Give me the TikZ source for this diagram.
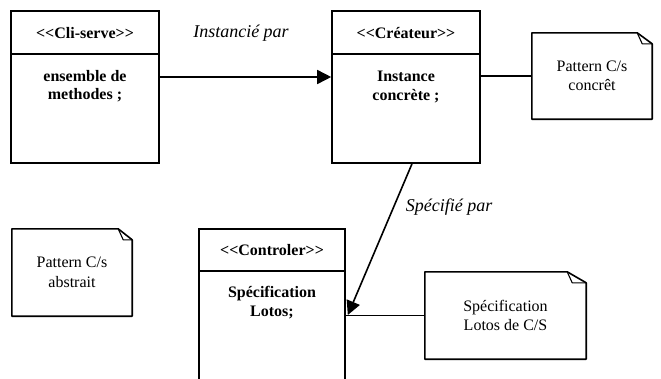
\documentclass[tikz,border=0pt]{standalone}
\usepackage{fontspec}
\setmainfont{Liberation Serif}[Ligatures=TeXOff]
\usetikzlibrary{arrows.meta,calc}

% dog-eared outline around a note node: #1 name, #2 fold width, #3 fold height
\newcommand{\dogear}[3]{%
  \draw[ln,line join=round] (#1.south west) -- (#1.north west)
    -- ($(#1.north east)+(-#2,0)$) -- ($(#1.north east)+(0,#3)$)
    -- (#1.south east) -- cycle;
  \draw[line width=1.1pt,line join=round] ($(#1.north east)+(-#2,0)$)
    -- ($(#1.north east)+(-#2+5,#3)$) -- ($(#1.north east)+(0,#3)$);
}

\begin{document}
\begin{tikzpicture}[x=1pt,y=-1pt,
  ln/.style={line width=1.6pt},
  classbox/.style={draw,ln,minimum width=148pt,minimum height=152pt,inner sep=0pt},
  boldtxt/.style={font=\fontsize{16}{18.5}\selectfont\bfseries,align=center,inner sep=0pt},
  plaintxt/.style={font=\fontsize{16}{19.5}\selectfont,align=center,inner sep=0pt},
  lbl/.style={font=\fontsize{18}{20}\selectfont\itshape,inner sep=0pt},
  note/.style 2 args={minimum width=#1,minimum height=#2,inner sep=0pt},
  tip/.style={-{Triangle[length=14pt,width=14pt]}}
]
\useasboundingbox (0,0) rectangle (661,378);
\clip (0,0) rectangle (661,378);

% class boxes
\node[classbox] (cli) at (85,87) {};
\node[classbox] (crea) at (406,87) {};
\node[classbox,minimum width=146pt,minimum height=170pt] (ctrl) at (272,314) {};

% header separators
\draw[ln] ($(cli.north west)+(0,44)$) -- ($(cli.north east)+(0,44)$);
\draw[ln] ($(crea.north west)+(0,44)$) -- ($(crea.north east)+(0,44)$);
\draw[ln] ($(ctrl.north west)+(0,43)$) -- ($(ctrl.north east)+(0,43)$);

% class texts
\node[boldtxt] (clih) at (85,33) {<<Cli-serve>>};
\node[boldtxt] (clib) at (85,86) {ensemble de\\methodes ;};
\node[boldtxt] (creah) at (406,33) {<<Créateur>>};
\node[boldtxt] (creab) at (406,87) {Instance\\concrète ;};
\node[boldtxt] (ctrlh) at (272,250) {<<Controler>>};
\node[boldtxt] (ctrlb) at (272,302.5) {Spécification\\Lotos;};

% notes
\node[note={120pt}{86pt},plaintxt] (concret) at (592,76) {Pattern C/s\\concrêt};
\dogear{concret}{15}{11}
\node[note={120pt}{87pt},plaintxt] (abstrait) at (72,272.5) {Pattern C/s\\abstrait};
\dogear{abstrait}{14}{11}
\node[note={161pt}{87pt},plaintxt] (lotos) at (505.5,315.5) {Spécification\\Lotos de C/S};
\dogear{lotos}{19}{11}

% connectors
\draw[ln,tip] ($(cli.east)+(0,-10)$) -- ($(crea.west)+(0,-10)$);
\node[lbl] (inst) at (241,33) {Instancié par};
\draw[ln] (concret.west -| crea.east) -- (concret.west);
\draw[ln,tip] ($(crea.south)+(6,0)$) -- ($(ctrl.east)+(2,1)$);
\node[lbl] (spec) at (449,207) {Spécifié par};
\draw[ln] (lotos.west -| ctrl.east) -- (lotos.west);
\end{tikzpicture}
\end{document}
